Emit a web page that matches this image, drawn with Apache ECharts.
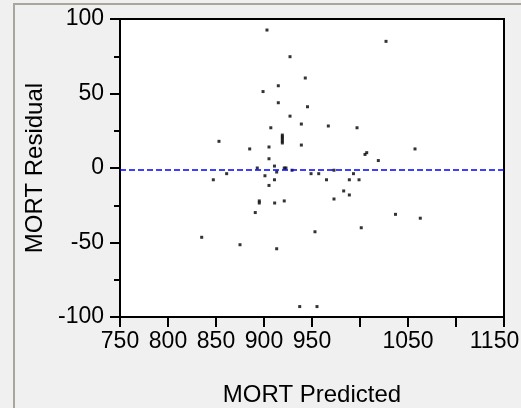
<!DOCTYPE html>
<html>
<head>
<meta charset="utf-8">
<script src="https://cdn.jsdelivr.net/npm/echarts@6/dist/echarts.min.js"></script>
<style>
html,body{margin:0;padding:0;background:#f0f0f0;}
#chart{width:521px;height:408px;}
</style>
</head>
<body>
<div id="chart"></div>
<script>
// MORT Predicted (x) and MORT Residual (y)
var predicted = [903.1,1027.1,927.1,943.0,914.9,899.0,914.9,945.3,927.1,938.9,967.0,996.9,907.1,
  919.1,919.1,919.1,919.1,919.1,853.1,938.9,905.2,885.1,1057.3,1005.2,1007.0,905.2,1019.1,
  910.9,893.0,921.1,922.9,929.2,972.9,913.2,861.1,949.0,957.0,993.2,901.0,847.2,910.9,965.1,
  988.9,999.0,905.2,983.0,988.9,972.9,895.1,895.1,911.1,921.1,890.9,1037.0,1062.8,1001.3,
  953.1,835.1,875.0,913.2,937.2,955.2];
var residual = [92.6,85.0,74.7,60.4,55.2,51.3,43.8,41.1,34.8,29.5,28.2,27.0,27.0,
  22.1,20.8,19.5,18.1,16.8,17.9,15.4,14.1,12.8,12.8,9.1,10.3,6.2,5.0,
  1.3,0.0,0.0,0.0,-1.5,-1.5,-2.7,-3.8,-3.8,-3.8,-3.8,-5.2,-7.9,-7.9,-7.9,
  -7.9,-7.9,-11.7,-15.4,-18.1,-20.8,-22.1,-23.5,-23.5,-22.1,-29.9,-31.1,-33.7,-40.1,
  -42.8,-46.5,-51.5,-54.2,-93.0,-93.0];
var meanResidual = -1;
var xTicksShown = ['750','800','850','900','950','1050','1150'];

var points = predicted.map(function(x,i){return [x, residual[i]];});
var font = 'Liberation Sans, Arial, sans-serif';
var chart = echarts.init(document.getElementById('chart'));
chart.setOption({
  backgroundColor:'#f0f0f0',
  animation:false,
  graphic:[{
    type:'polyline', silent:true,
    shape:{points:[[14,420],[14,4],[530,4]]},
    style:{stroke:'#a9a69c', lineWidth:2, fill:null}
  }],
  grid:{left:120, top:19, right:17, bottom:91, outerBoundsMode:'none', containLabel:false,
    show:true, backgroundColor:'#fff', borderColor:'#000', borderWidth:2},
  xAxis:{
    type:'value', min:750, max:1150, interval:50,
    name:'MORT Predicted', nameLocation:'middle', nameGap:66,
    nameTextStyle:{fontFamily:font, fontSize:24, color:'#000'},
    axisLine:{onZero:false, lineStyle:{color:'#000', width:2}},
    axisTick:{show:true, length:10, lineStyle:{color:'#000', width:2}},
    axisLabel:{margin:13, fontFamily:font, fontSize:23, color:'#000',
      formatter:function(v){
        var s=String(v);
        if(xTicksShown.indexOf(s)<0) return '';
        return s===xTicksShown[xTicksShown.length-1] ? '{r|'+s+'}' : s;
      },
      rich:{r:{fontFamily:font, fontSize:23, color:'#000', padding:[0,19,0,0]}}
    },
    splitLine:{show:false}
  },
  yAxis:{
    type:'value', min:-100, max:100, interval:50,
    name:'MORT Residual', nameLocation:'middle', nameGap:59, nameRotate:90,
    nameTextStyle:{fontFamily:font, fontSize:24, color:'#000'},
    axisLine:{onZero:false, lineStyle:{color:'#000', width:2}},
    axisTick:{show:true, length:10, lineStyle:{color:'#000', width:2}},
    minorTick:{show:true, splitNumber:2, length:6, lineStyle:{color:'#000', width:2}},
    axisLabel:{margin:16, fontFamily:font, fontSize:23, color:'#000'},
    splitLine:{show:false}
  },
  series:[{
    type:'scatter', data:points, symbol:'rect', symbolSize:3,
    itemStyle:{color:'#000'},
    markLine:{
      silent:true, symbol:'none', label:{show:false},
      lineStyle:{color:'#0000ff', type:[6,3], width:1.5},
      data:[{yAxis:meanResidual}]
    }
  }]
});
</script>
</body>
</html>
